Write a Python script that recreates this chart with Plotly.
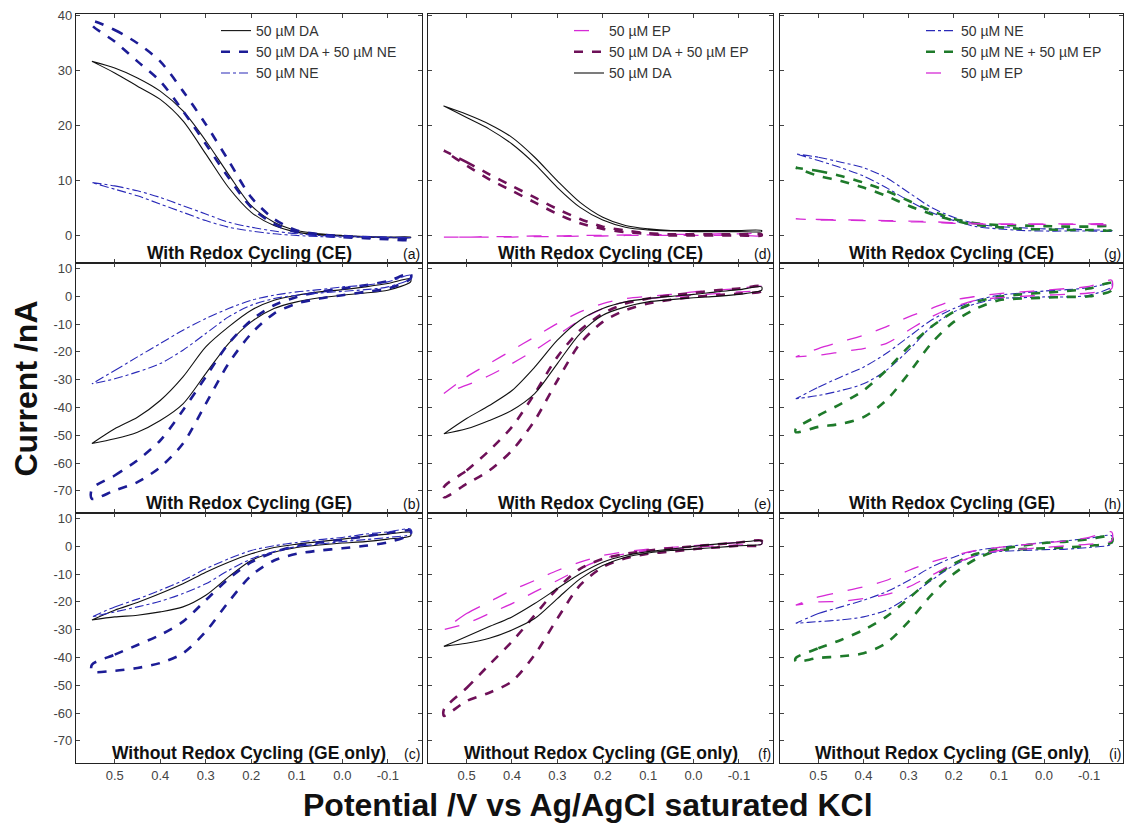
import plotly.graph_objects as go

# ---------------- data (potential in V, current in nA) ----------------
POTENTIAL = [0.55, 0.50, 0.45, 0.40, 0.35, 0.30, 0.25, 0.20, 0.15, 0.10, 0.05, 0.00, -0.05, -0.10, -0.15]

# (a) With redox cycling (CE)
A_DA_UP = [31.6, 30.4, 28.6, 26.2, 22.6, 17.2, 11.1, 5.4, 2.4, 0.9, 0.3, 0.0, -0.2, -0.3, -0.3]
A_DA_LO = [31.6, 29.5, 27.1, 24.7, 20.8, 14.8, 8.7, 4.2, 1.8, 0.6, 0.1, -0.1, -0.3, -0.4, -0.4]
A_DANE_UP = [38.9, 37.3, 34.9, 31.6, 26.2, 20.2, 13.6, 6.9, 3.0, 0.9, 0.2, -0.1, -0.3, -0.5, -0.6]
A_DANE_LO = [38.2, 35.2, 31.6, 28.0, 22.6, 16.6, 10.5, 5.1, 2.1, 0.6, 0.0, -0.3, -0.5, -0.7, -0.8]
A_NE_UP = [9.6, 9.0, 8.1, 6.9, 5.4, 3.9, 2.4, 1.5, 0.8, 0.3, 0.0, -0.1, -0.2, -0.3, -0.4]
A_NE_LO = [9.6, 8.4, 7.2, 5.7, 4.2, 2.7, 1.5, 0.8, 0.3, 0.0, -0.2, -0.3, -0.3, -0.4, -0.4]

# (b) With redox cycling (GE)
B_DA_UP = [-53.0, -47.7, -43.5, -37.5, -29.0, -18.2, -11.0, -5.0, -1.4, 0.4, 1.6, 2.4, 3.4, 4.6, 6.4]
B_DA_LO = [-53.0, -51.3, -48.9, -44.7, -38.7, -27.8, -17.0, -9.2, -4.4, -2.0, -0.5, 0.4, 1.2, 2.2, 5.2]
B_DANE_UP = [-69.3, -64.5, -59.0, -51.9, -41.0, -29.0, -17.0, -8.6, -3.2, -0.2, 1.6, 2.8, 4.0, 5.5, 8.2]
B_DANE_LO = [-72.9, -69.9, -66.9, -61.5, -53.0, -38.7, -24.2, -13.4, -6.2, -2.6, -0.8, 0.4, 1.6, 2.8, 6.4]
B_NE_UP = [-31.5, -26.7, -21.8, -17.0, -12.2, -8.0, -4.4, -1.4, 0.4, 1.6, 2.4, 3.4, 4.0, 5.2, 7.6]
B_NE_LO = [-31.5, -29.7, -27.2, -24.2, -19.4, -13.4, -7.4, -3.2, -0.8, 0.4, 1.2, 1.8, 2.4, 3.4, 6.4]

# (c) Without redox cycling (GE only)
C_DA_UP = [-26.5, -23.0, -20.2, -17.0, -13.5, -9.3, -5.7, -2.7, -0.4, 0.8, 1.7, 2.6, 3.6, 4.4, 5.0]
C_DA_LO = [-26.5, -25.4, -24.8, -23.6, -21.8, -17.6, -11.0, -5.1, -2.1, -0.4, 0.5, 1.2, 1.7, 2.6, 3.8]
C_DANE_UP = [-42.6, -39.0, -35.5, -31.9, -27.1, -19.4, -11.7, -5.7, -2.1, 0.2, 1.4, 2.4, 3.6, 4.8, 5.6]
C_DANE_LO = [-45.0, -44.8, -43.8, -42.0, -38.5, -30.7, -20.0, -10.5, -5.1, -2.7, -1.5, -0.7, 0.2, 1.4, 4.4]
C_NE_UP = [-25.4, -21.8, -19.0, -15.8, -12.3, -8.1, -4.5, -1.5, 0.2, 1.4, 2.4, 3.2, 4.4, 5.2, 6.2]
C_NE_LO = [-25.4, -23.6, -21.8, -19.8, -17.0, -13.5, -8.7, -4.5, -1.9, -0.1, 0.8, 1.7, 2.4, 3.2, 4.4]

# (d) With redox cycling (CE)
D_EP_UP = [-0.3, -0.3, -0.2, -0.2, -0.1, -0.1, 0.0, 0.0, 0.1, 0.1, 0.2, 0.2, 0.3, 0.3, 0.3]
D_EP_LO = [-0.3, -0.3, -0.3, -0.3, -0.2, -0.2, -0.1, -0.1, 0.0, 0.0, 0.0, 0.0, 0.0, 0.0, 0.0]
D_DAEP_UP = [15.4, 13.3, 11.1, 9.0, 6.9, 4.8, 3.0, 1.6, 0.9, 0.4, 0.2, 0.2, 0.2, 0.2, 0.2]
D_DAEP_LO = [15.4, 12.7, 10.2, 8.1, 6.0, 3.9, 2.2, 1.2, 0.6, 0.3, 0.0, 0.0, 0.0, 0.0, 0.0]
D_DA_UP = [23.5, 22.0, 20.2, 17.8, 14.2, 9.9, 6.0, 3.3, 1.8, 1.2, 0.9, 0.9, 0.9, 0.9, 0.9]
D_DA_LO = [23.5, 21.4, 19.3, 16.6, 13.0, 8.7, 5.1, 2.8, 1.5, 1.0, 0.8, 0.7, 0.7, 0.7, 0.7]

# (e) With redox cycling (GE)
E_EP_UP = [-35.0, -29.0, -24.2, -19.4, -14.6, -9.8, -5.6, -2.6, -0.8, 0.0, 0.7, 1.6, 2.2, 2.8, 3.6]
E_EP_LO = [-35.0, -32.0, -28.5, -24.2, -19.4, -14.0, -8.6, -4.4, -2.0, -0.8, -0.2, 0.4, 1.0, 1.6, 2.4]
E_DAEP_UP = [-68.7, -62.7, -55.5, -47.0, -35.0, -21.8, -12.2, -6.2, -2.6, -0.8, 0.4, 1.2, 2.2, 2.8, 3.6]
E_DAEP_LO = [-72.3, -67.5, -62.7, -55.5, -44.7, -30.3, -17.0, -9.2, -5.0, -2.6, -1.2, -0.2, 0.4, 1.0, 1.9]
E_DA_UP = [-49.5, -44.0, -39.3, -33.9, -25.5, -15.8, -8.6, -4.4, -2.0, -0.8, 0.0, 0.7, 1.6, 2.4, 3.4]
E_DA_LO = [-49.5, -47.7, -44.7, -41.0, -35.0, -24.2, -13.4, -6.8, -3.8, -2.0, -1.2, -0.5, 0.0, 0.7, 2.2]

# (f) Without redox cycling (GE only)
F_EP_UP = [-30.0, -24.2, -20.0, -15.8, -12.3, -8.7, -5.7, -3.3, -1.9, -1.0, -0.4, 0.2, 0.8, 1.4, 2.0]
F_EP_LO = [-30.0, -27.7, -24.2, -20.6, -16.4, -12.3, -8.1, -4.5, -2.7, -1.5, -1.0, -0.4, 0.2, 0.5, 0.8]
F_DAEP_UP = [-58.7, -51.0, -42.6, -34.3, -24.8, -15.2, -8.1, -4.5, -2.7, -1.5, -0.7, 0.0, 0.7, 1.4, 2.0]
F_DAEP_LO = [-61.0, -55.7, -52.7, -48.6, -39.0, -26.0, -14.0, -7.5, -4.3, -2.7, -1.9, -1.0, -0.4, 0.2, 0.5]
F_DA_UP = [-36.0, -32.5, -28.9, -25.4, -20.6, -15.2, -9.9, -5.7, -3.3, -1.9, -1.0, 0.0, 0.8, 1.4, 2.0]
F_DA_LO = [-36.0, -34.9, -33.1, -30.1, -26.0, -18.8, -11.7, -6.9, -3.9, -2.4, -1.5, -1.0, -0.4, 0.2, 0.8]

# (g) With redox cycling (CE)
G_NE_UP = [14.8, 14.2, 13.3, 12.3, 10.5, 7.8, 5.1, 3.3, 2.1, 1.6, 1.4, 1.2, 1.2, 1.0, 0.9]
G_NE_LO = [14.8, 13.6, 12.3, 10.8, 8.7, 6.3, 4.2, 2.7, 1.6, 1.2, 0.9, 0.8, 0.8, 0.8, 0.8]
G_NEEP_UP = [12.3, 11.7, 10.8, 9.6, 8.1, 6.3, 4.5, 3.0, 2.2, 1.9, 1.8, 1.7, 1.6, 1.6, 1.6]
G_NEEP_LO = [12.3, 10.8, 9.9, 8.7, 7.2, 5.4, 3.9, 2.7, 1.9, 1.5, 1.2, 1.1, 1.0, 1.0, 1.0]
G_EP_UP = [3.0, 2.9, 2.85, 2.8, 2.7, 2.6, 2.5, 2.3, 2.2, 2.1, 2.1, 2.1, 2.1, 2.1, 2.1]
G_EP_LO = [3.0, 2.8, 2.75, 2.7, 2.6, 2.5, 2.4, 2.2, 2.1, 2.0, 2.0, 2.0, 2.0, 2.0, 2.0]

# (h) With redox cycling (GE)
H_NE_UP = [-36.9, -32.7, -29.0, -25.5, -20.6, -14.6, -8.6, -4.4, -1.4, 0.4, 1.2, 1.9, 2.4, 3.1, 4.6]
H_NE_LO = [-36.9, -35.7, -33.9, -31.5, -26.7, -19.4, -11.0, -5.6, -2.6, -0.8, -0.5, -0.2, -0.2, 0.4, 3.4]
H_NEEP_UP = [-47.7, -42.9, -38.7, -33.9, -26.7, -18.2, -11.0, -5.6, -2.0, -0.2, 0.7, 1.3, 1.9, 2.8, 4.8]
H_NEEP_LO = [-48.9, -47.0, -45.9, -43.5, -37.5, -27.8, -17.0, -9.2, -4.4, -1.4, -0.8, -0.5, -0.2, 0.0, 2.2]
H_EP_UP = [-21.8, -18.8, -16.4, -14.0, -11.0, -7.4, -4.4, -1.4, 0.0, 1.0, 1.6, 2.2, 2.8, 3.6, 5.8]
H_EP_LO = [-21.8, -21.2, -20.0, -18.8, -17.0, -12.2, -7.4, -3.8, -1.4, -0.5, 0.0, 0.4, 0.7, 1.2, 2.8]

# (i) Without redox cycling (GE only)
I_NE_UP = [-27.7, -24.2, -21.8, -19.4, -16.4, -12.3, -7.5, -3.9, -1.5, -0.4, 0.5, 1.4, 2.0, 2.9, 3.8]
I_NE_LO = [-27.7, -27.1, -26.5, -25.4, -23.0, -18.2, -12.3, -6.9, -3.3, -1.9, -1.5, -1.2, -1.0, -0.4, 0.8]
I_NEEP_UP = [-40.2, -36.7, -33.7, -30.1, -25.4, -18.8, -11.7, -6.3, -2.7, -1.0, 0.2, 1.2, 1.7, 2.6, 3.6]
I_NEEP_LO = [-41.4, -40.2, -39.6, -38.5, -34.9, -27.1, -17.6, -9.9, -4.5, -1.5, -1.0, -0.7, -0.4, 0.2, 1.4]
I_EP_UP = [-21.2, -18.2, -16.4, -14.6, -12.3, -8.7, -5.7, -3.3, -1.5, -0.4, 0.5, 1.2, 2.0, 3.2, 5.2]
I_EP_LO = [-21.2, -20.0, -19.8, -18.8, -17.4, -14.6, -10.5, -6.3, -3.3, -1.5, -1.0, -0.4, 0.2, 0.8, 2.0]

PANEL_TITLES = ["With Redox Cycling (CE)", "With Redox Cycling (GE)", "Without Redox Cycling (GE only)"]
PANEL_LETTERS = [["(a)", "(d)", "(g)"], ["(b)", "(e)", "(h)"], ["(c)", "(f)", "(i)"]]
X_TICKS = [0.5, 0.4, 0.3, 0.2, 0.1, 0.0, -0.1]
X_TICK_TEXT = ["0.5", "0.4", "0.3", "0.2", "0.1", "0.0", "-0.1"]
Y_TICKS_TOP = [0, 10, 20, 30, 40]
Y_TICKS_LOW = [10, 0, -10, -20, -30, -40, -50, -60, -70]
Y_TICK_TEXT_LOW = ["10", "0", "-10", "-20", "-30", "-40", "-50", "-60", "-70"]

# ---------------- styles ----------------
FONT = "Liberation Sans, Arial, sans-serif"
STY = {
    "DA":   dict(color="#111111", width=1.1, dash="solid"),
    "DANE": dict(color="#1c1c96", width=2.6, dash="dash"),
    "NE":   dict(color="#2a2ab8", width=1.1, dash="dashdot"),
    "EP":   dict(color="#d62ad6", width=1.3, dash="longdash"),
    "DAEP": dict(color="#6e1058", width=2.6, dash="dash"),
    "NEEP": dict(color="#1e7a2a", width=2.6, dash="dash"),
}
NAMES = {
    "DA": "50 \u00b5M DA", "DANE": "50 \u00b5M DA + 50 \u00b5M NE", "NE": "50 \u00b5M NE",
    "EP": "50 \u00b5M EP", "DAEP": "50 \u00b5M DA + 50 \u00b5M EP", "NEEP": "50 \u00b5M NE + 50 \u00b5M EP",
}

PANELS = {
    (0, 0): [("DA", A_DA_UP, A_DA_LO), ("DANE", A_DANE_UP, A_DANE_LO), ("NE", A_NE_UP, A_NE_LO)],
    (1, 0): [("DA", B_DA_UP, B_DA_LO), ("DANE", B_DANE_UP, B_DANE_LO), ("NE", B_NE_UP, B_NE_LO)],
    (2, 0): [("DA", C_DA_UP, C_DA_LO), ("DANE", C_DANE_UP, C_DANE_LO), ("NE", C_NE_UP, C_NE_LO)],
    (0, 1): [("EP", D_EP_UP, D_EP_LO), ("DAEP", D_DAEP_UP, D_DAEP_LO), ("DA", D_DA_UP, D_DA_LO)],
    (1, 1): [("EP", E_EP_UP, E_EP_LO), ("DAEP", E_DAEP_UP, E_DAEP_LO), ("DA", E_DA_UP, E_DA_LO)],
    (2, 1): [("EP", F_EP_UP, F_EP_LO), ("DAEP", F_DAEP_UP, F_DAEP_LO), ("DA", F_DA_UP, F_DA_LO)],
    (0, 2): [("NE", G_NE_UP, G_NE_LO), ("NEEP", G_NEEP_UP, G_NEEP_LO), ("EP", G_EP_UP, G_EP_LO)],
    (1, 2): [("NE", H_NE_UP, H_NE_LO), ("NEEP", H_NEEP_UP, H_NEEP_LO), ("EP", H_EP_UP, H_EP_LO)],
    (2, 2): [("NE", I_NE_UP, I_NE_LO), ("NEEP", I_NEEP_UP, I_NEEP_LO), ("EP", I_EP_UP, I_EP_LO)],
}

# ---------------- layout geometry ----------------
W, H = 1128, 828
ML, MR, MT, MB = 76, 5, 14, 65
PW, PH = W - ML - MR, H - MT - MB
COL_PX = [(76, 422), (428, 773), (780, 1123)]
ROW_PX = [(14, 263), (263, 513), (513, 763)]
col_dom = [[(a - ML) / PW, (b - ML) / PW] for a, b in COL_PX]
row_dom = [[1 - (b - MT) / PH, 1 - (a - MT) / PH] for a, b in ROW_PX]

fig = go.Figure()
layout = {}
annotations = []
legend_ids = ["legend", "legend2", "legend3"]
legend_x_px = [216, 569, 921]

for (r, c), curves in PANELS.items():
    n = r * 3 + c + 1
    xa = "x" if n == 1 else f"x{n}"
    ya = "y" if n == 1 else f"y{n}"
    for key, up, lo in curves:
        xs = POTENTIAL + POTENTIAL[::-1] + [POTENTIAL[0]]
        ys = up + lo[::-1] + [up[0]]
        s = STY[key]
        fig.add_trace(go.Scatter(
            x=xs, y=ys, mode="lines", xaxis=xa, yaxis=ya,
            name=NAMES[key],
            line=dict(color=s["color"], width=s["width"], dash=s["dash"], shape="spline", smoothing=0.8),
            showlegend=(r == 0), legend=legend_ids[c],
        ))
    xname = "xaxis" if n == 1 else f"xaxis{n}"
    yname = "yaxis" if n == 1 else f"yaxis{n}"
    common = dict(showline=True, linecolor="#222", linewidth=1.2, mirror="ticks",
                  ticks="inside", ticklen=4, tickcolor="#444", showgrid=False, zeroline=False,
                  tickfont=dict(family=FONT, size=13, color="#444"))
    layout[xname] = dict(common, domain=col_dom[c], anchor=ya, range=[0.585, -0.175],
                         tickvals=X_TICKS, ticktext=X_TICK_TEXT, showticklabels=(r == 2))
    if r == 0:
        layout[yname] = dict(common, domain=row_dom[r], anchor=xa, range=[-5, 40.2],
                             tickvals=Y_TICKS_TOP, showticklabels=(c == 0))
    else:
        layout[yname] = dict(common, domain=row_dom[r], anchor=xa, range=[-78, 12],
                             tickvals=Y_TICKS_LOW, ticktext=Y_TICK_TEXT_LOW, showticklabels=(c == 0))
    annotations.append(dict(text="<b>" + PANEL_TITLES[r] + "</b>", xref=f"{xa} domain", yref=f"{ya} domain",
                            x=0.5, y=0, xanchor="center", yanchor="bottom", yshift=-2, showarrow=False,
                            font=dict(family=FONT, size=17.5, color="#111")))
    annotations.append(dict(text=PANEL_LETTERS[r][c], xref=f"{xa} domain", yref=f"{ya} domain",
                            x=1, y=0, xanchor="right", yanchor="bottom", xshift=0, yshift=-1, showarrow=False,
                            font=dict(family=FONT, size=14, color="#111")))

annotations.append(dict(text="<b>Current /nA</b>", xref="paper", yref="paper", x=(25 - ML) / PW, y=0.5,
                        xanchor="center", yanchor="middle", textangle=-90, showarrow=False,
                        font=dict(family=FONT, size=32, color="#111")))
annotations.append(dict(text="<b>Potential /V vs Ag/AgCl saturated KCl</b>", xref="paper", yref="paper",
                        x=(588 - ML) / PW, y=(763 - 805) / PH, xanchor="center", yanchor="middle", showarrow=False,
                        font=dict(family=FONT, size=32, color="#111")))

for i, lid in enumerate(legend_ids):
    layout[lid] = dict(x=(legend_x_px[i] - ML) / PW, y=1 - (15 - MT) / PH, xanchor="left", yanchor="top",
                       bgcolor="rgba(0,0,0,0)", font=dict(family=FONT, size=14, color="#333"),
                       tracegroupgap=0, traceorder="normal")

fig.update_layout(width=W, height=H, margin=dict(l=ML, r=MR, t=MT, b=MB),
                  paper_bgcolor="white", plot_bgcolor="white", annotations=annotations, **layout)
fig.write_html("out.html", config={"displayModeBar": False},
               post_script="document.body.style.margin='0';document.body.style.overflow='hidden';")
